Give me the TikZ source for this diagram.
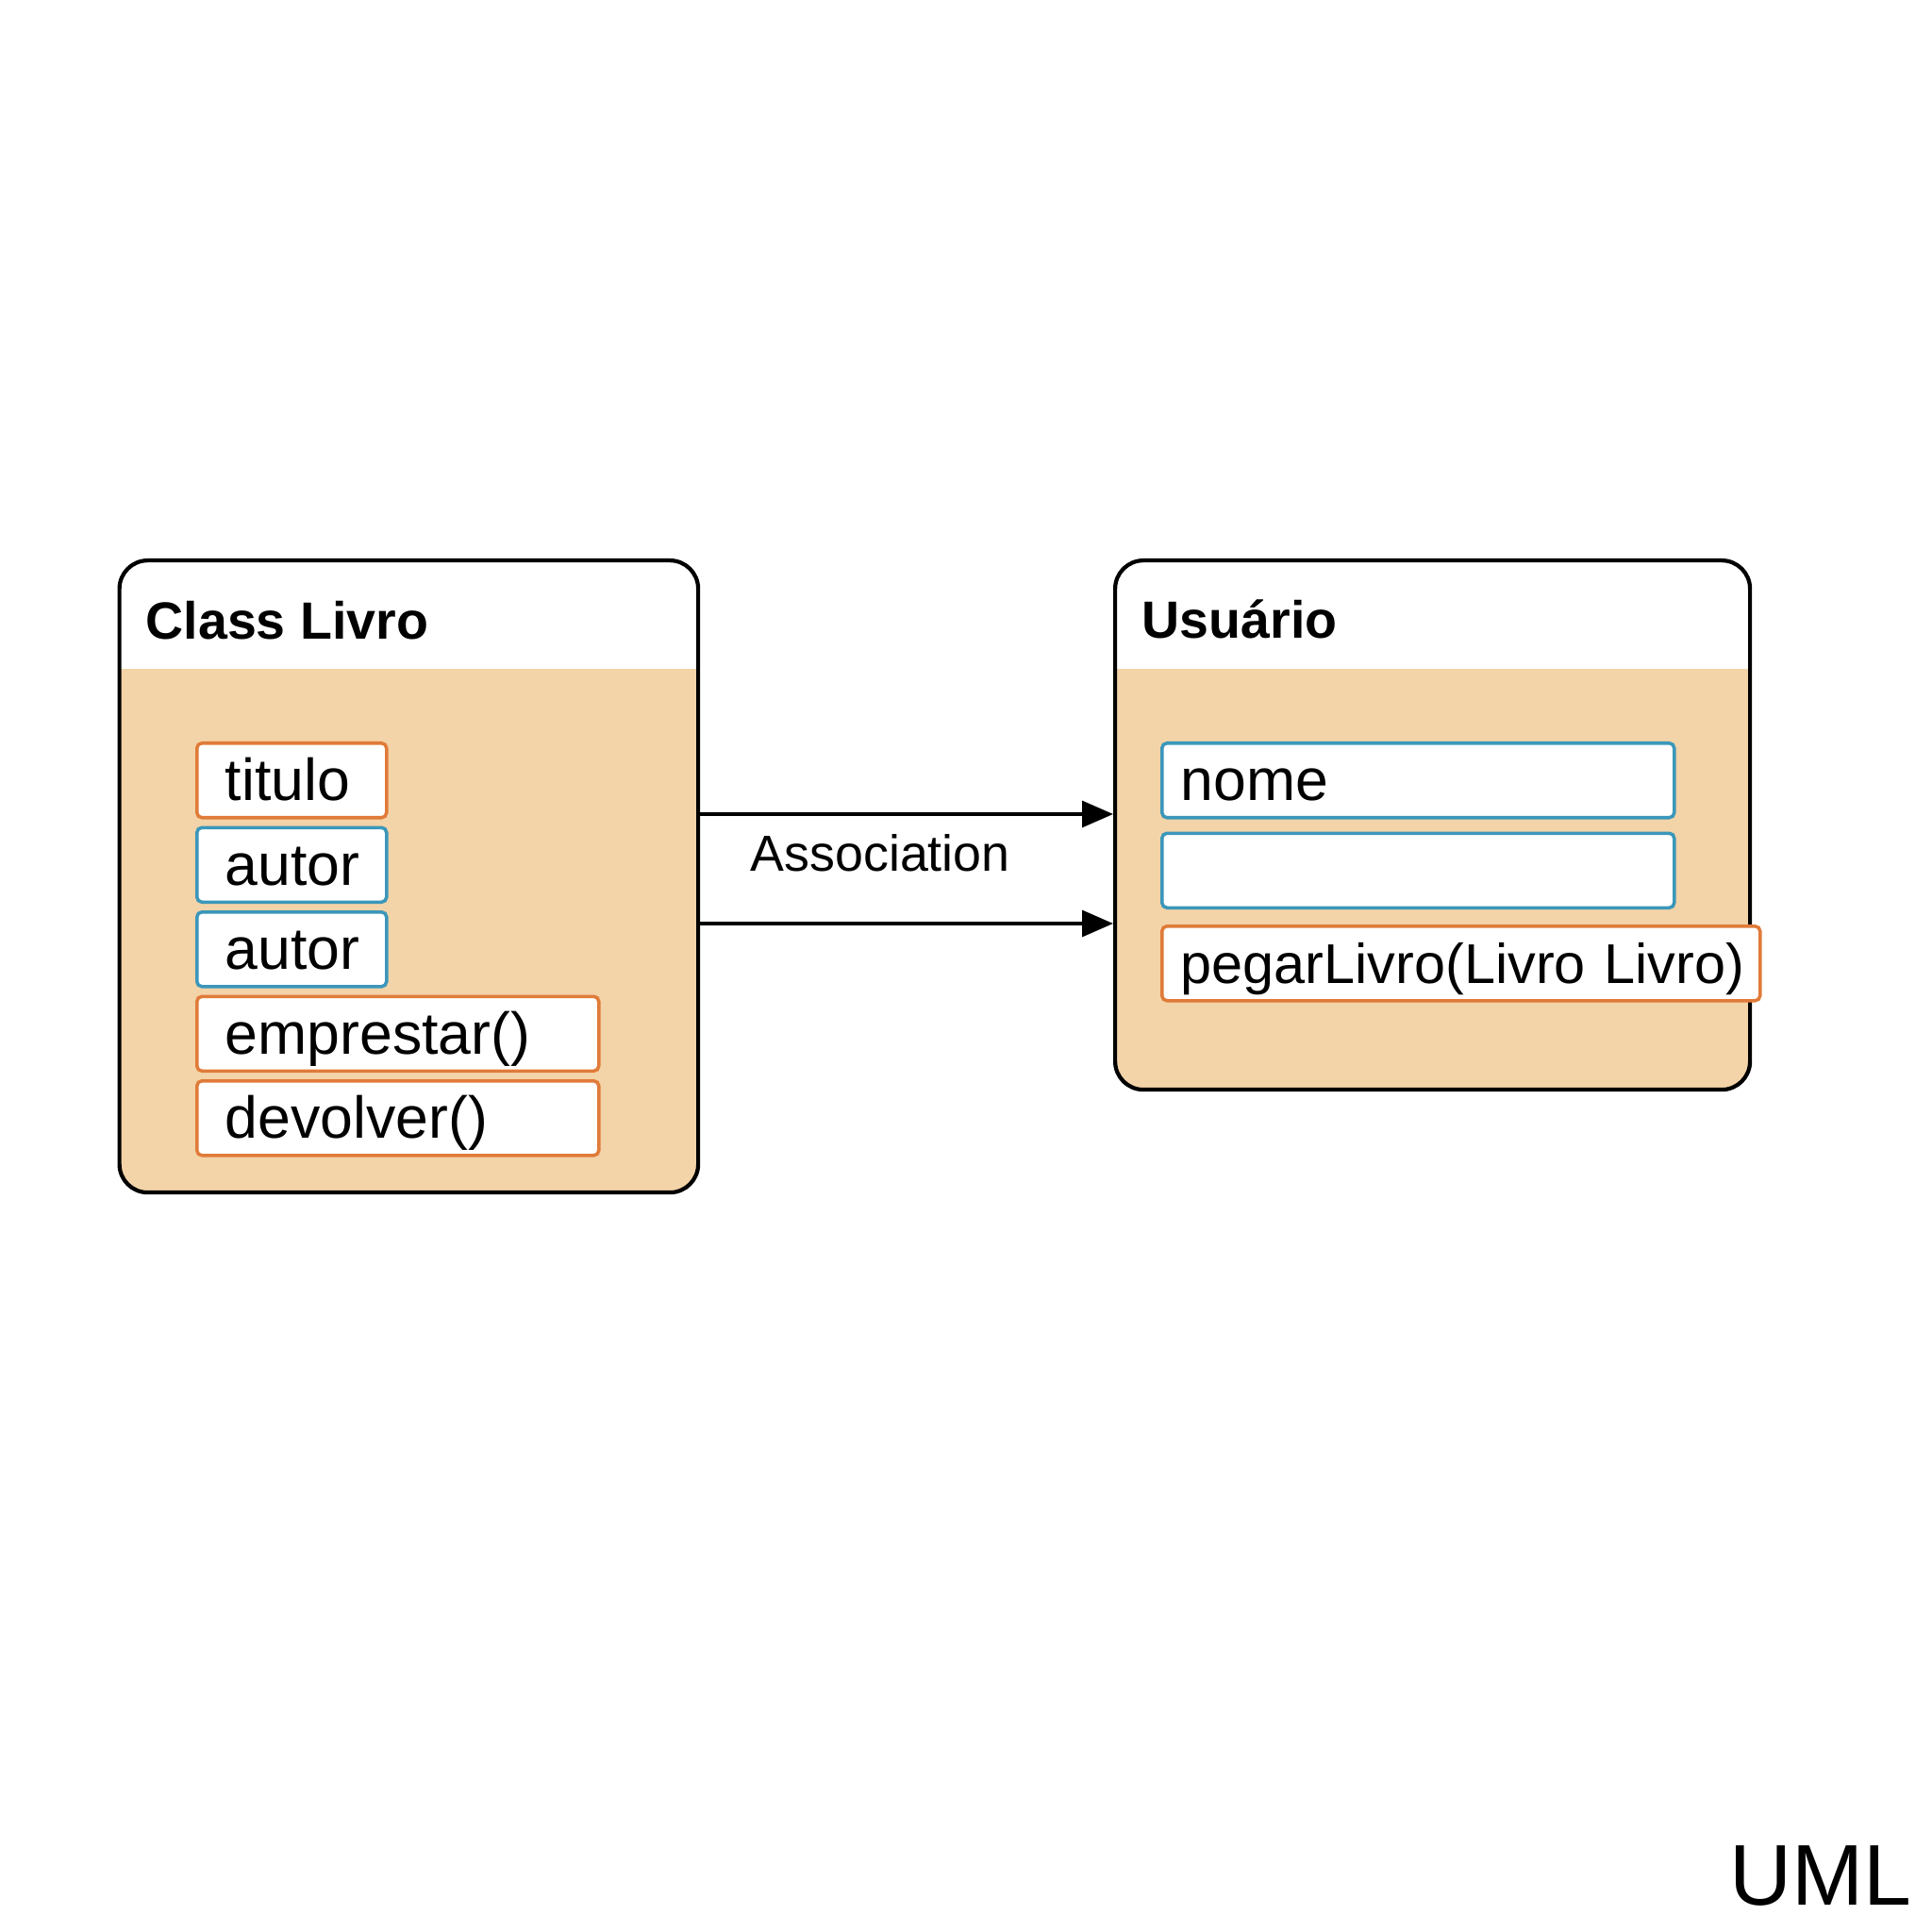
\documentclass[tikz,border=0pt]{standalone}
\usepackage{fontspec}
\setmainfont{Liberation Sans}
\usetikzlibrary{arrows.meta,positioning}
\definecolor{umlpeach}{RGB}{243,211,168}
\definecolor{umlorange}{RGB}{224,123,57}
\definecolor{umlblue}{RGB}{59,151,186}

\begin{document}
\begin{tikzpicture}[
    classbox/.style={draw, line width=1.2pt, rounded corners=0.3cm, fill=white, anchor=north west, inner sep=0pt,
        path picture={\fill[umlpeach, sharp corners] ([yshift=-1.15cm]path picture bounding box.north west) rectangle (path picture bounding box.south east);}},
    classtitle/.style={anchor=base west, inner sep=0pt, font=\fontsize{15.8}{19}\selectfont\bfseries},
    item/.style={draw=#1, fill=white, line width=1pt, rounded corners=1.5pt, minimum height=0.79cm,
        inner xsep=0.3cm, inner ysep=0pt, text height=0.43cm, text depth=0pt, align=left,
        font=\fontsize{17.8}{20}\selectfont},
    assoc/.style={-{Triangle[length=0.33cm,width=0.28cm]}, line width=0.9pt}
]
    \useasboundingbox (0,0) rectangle (20.48,20.48);

    % Classes
    \node[classbox, minimum width=6.135cm, minimum height=6.70cm] (livro) at (1.245,14.56) {};
    \node[classbox, minimum width=6.73cm, minimum height=5.61cm] (usuario) at (11.80,14.56) {};

    \node[classtitle] (livrotitle) at (1.54,13.70) {Class Livro};
    \node[classtitle] (usuariotitle) at (12.10,13.71) {Usuário};

    % Livro members
    \node[item=umlorange, text width=1.41cm, anchor=north west] (titulo) at (2.07,12.62) {titulo};
    \node[item=umlblue, text width=1.41cm, below=0.07cm of titulo.south west, anchor=north west] (autora) {autor};
    \node[item=umlblue, text width=1.41cm, below=0.07cm of autora.south west, anchor=north west] (autorb) {autor};
    \node[item=umlorange, text width=3.66cm, below=0.07cm of autorb.south west, anchor=north west] (emprestar) {emprestar()};
    \node[item=umlorange, text width=3.66cm, below=0.07cm of emprestar.south west, anchor=north west] (devolver) {devolver()};

    % Usuario members
    \node[item=umlblue, inner xsep=0.2cm, text width=5.03cm, anchor=north west] (nome) at (12.30,12.62) {nome};
    \node[item=umlblue, inner xsep=0.2cm, text width=5.03cm, below=0.13cm of nome.south west, anchor=north west] (vazio) {};
    \node[item=umlorange, inner xsep=0.2cm, text width=5.94cm, font=\fontsize{16.9}{20}\selectfont,
        below=0.16cm of vazio.south west, anchor=north west] (pegar) {\mbox{pegarLivro(Livro Livro)}};

    % Association
    \draw[assoc] (livro.east |- 0,11.85) -- (usuario.west |- 0,11.85);
    \draw[assoc] (livro.east |- 0,10.69) -- (usuario.west |- 0,10.69);
    \node[anchor=base west, inner sep=0pt, font=\fontsize{15.3}{18}\selectfont] (assoclabel) at (7.95,11.24) {Association};

    % Corner label
    \node[anchor=base west, inner sep=0pt, font=\fontsize{26}{30}\selectfont] (umllabel) at (18.33,0.29) {UML};
\end{tikzpicture}
\end{document}
